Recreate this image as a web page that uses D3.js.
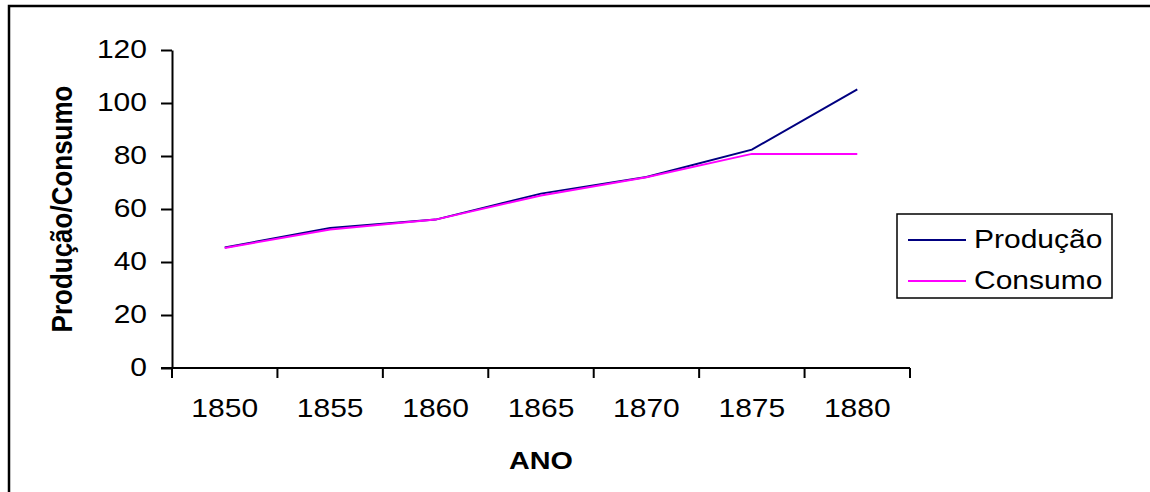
<!DOCTYPE html>
<html>
<head>
<meta charset="utf-8">
<script src="https://cdn.jsdelivr.net/npm/d3@7"></script>
<style>
  body { margin: 0; background: #fff; }
</style>
</head>
<body>
<div id="chart"></div>
<script>

/* DATA ****************************************************************************/

var anos = ["1850", "1855", "1860", "1865", "1870", "1875", "1880"];
var producao = [45.5, 52.8, 56.0, 65.8, 72.1, 82.4, 105.1];
var consumo  = [45.3, 52.3, 56.0, 65.1, 72.0, 80.8, 80.8];
var yTicks = [0, 20, 40, 60, 80, 100, 120];
var series = [
    {name: "Produção", values: producao, color: "#000080"},
    {name: "Consumo",  values: consumo,  color: "#ff00ff"}
];

var drawChart = function(){

    /* SETTINGS ***********************************************************************/

    var width = 1150;
    var height = 492;
    var fontFamily = "'Liberation Sans', Arial, sans-serif";
    var stretch = 1.2;   // text in the original is a bit wide
    var fontSize = 25;

    var plot = {left: 172, right: 910, top: 50, bottom: 368};

    var svg = d3.select("#chart")
        .append("svg")
        .attr("width", width)
        .attr("height", height);

    // outer frame (right / bottom edges fall outside the picture)
    svg.append("rect")
        .attr("x", 9).attr("y", 6)
        .attr("width", 1160).attr("height", 500)
        .attr("fill", "none")
        .attr("stroke", "#000")
        .attr("stroke-width", 2.5);

    /* SCALES *************************************************************************/

    var x = d3.scaleBand()
        .domain(anos)
        .range([plot.left, plot.right])
        .padding(0);

    var y = d3.scaleLinear()
        .domain([0, 120])
        .range([plot.bottom, plot.top]);

    // helper for stretched text
    function label(g, txt, tx, ty, size, weight, sx, anchor) {
        return g.append("text")
            .attr("transform", "translate(" + tx + "," + ty + ") scale(" + sx + ",1)")
            .attr("text-anchor", anchor || "middle")
            .attr("font-family", fontFamily)
            .attr("font-size", size)
            .attr("font-weight", weight)
            .attr("fill", "#000")
            .text(txt);
    }

    /* AXES ***************************************************************************/

    var axes = svg.append("g");

    // y axis with outward ticks
    var yAxis = axes.append("g")
        .attr("transform", "translate(" + plot.left + ",0)")
        .call(d3.axisLeft(y).tickValues(yTicks).tickSize(11).tickSizeOuter(0).tickFormat(""));
    yAxis.selectAll("path, line").attr("stroke", "#000").attr("stroke-width", 2);

    // y tick labels
    yTicks.forEach(function(v){
        label(axes, v, 147, y(v) + 8, fontSize, "normal", stretch, "end");
    });

    // x axis line
    axes.append("line")
        .attr("x1", plot.left - 11).attr("x2", plot.right)
        .attr("y1", y(0)).attr("y2", y(0))
        .attr("stroke", "#000").attr("stroke-width", 2);

    // x ticks sit between the categories
    var edges = anos.map(function(a){ return x(a); }).concat([x.range()[1]]);
    axes.selectAll(".xtick")
        .data(edges)
        .join("line")
        .attr("class", "xtick")
        .attr("x1", d => d).attr("x2", d => d)
        .attr("y1", y(0)).attr("y2", y(0) + 10)
        .attr("stroke", "#000").attr("stroke-width", 2);

    // x tick labels
    anos.forEach(function(a){
        label(axes, a, x(a) + x.bandwidth() / 2, 417, fontSize, "normal", stretch);
    });

    // axis titles
    label(axes, "ANO", (plot.left + plot.right) / 2, 469, 23, "bold", 1.25);

    axes.append("text")
        .attr("transform", "translate(72," + ((plot.top + plot.bottom) / 2) + ") scale(1.15,1) rotate(-90)")
        .attr("text-anchor", "middle")
        .attr("font-family", fontFamily)
        .attr("font-size", 26)
        .attr("font-weight", "bold")
        .text("Produção/Consumo");

    /* LINES **************************************************************************/

    var line = d3.line()
        .x(function(d, i){ return x(anos[i]) + x.bandwidth() / 2; })
        .y(function(d){ return y(d); });

    svg.append("g").selectAll("path")
        .data(series)
        .join("path")
        .attr("d", d => line(d.values))
        .attr("fill", "none")
        .attr("stroke", d => d.color)
        .attr("stroke-width", 2);

    /* LEGEND *************************************************************************/

    var legend = svg.append("g");

    legend.append("rect")
        .attr("x", 897).attr("y", 214)
        .attr("width", 215).attr("height", 84)
        .attr("fill", "#fff")
        .attr("stroke", "#000")
        .attr("stroke-width", 1.5);

    series.forEach(function(s, i){
        var ly = 240 + i * 41;
        legend.append("line")
            .attr("x1", 908).attr("x2", 966)
            .attr("y1", ly).attr("y2", ly)
            .attr("stroke", s.color)
            .attr("stroke-width", 2);
        label(legend, s.name, 974, ly + 8, fontSize, "normal", stretch, "start");
    });
}

window.addEventListener("load", drawChart);
</script>
</body>
</html>
